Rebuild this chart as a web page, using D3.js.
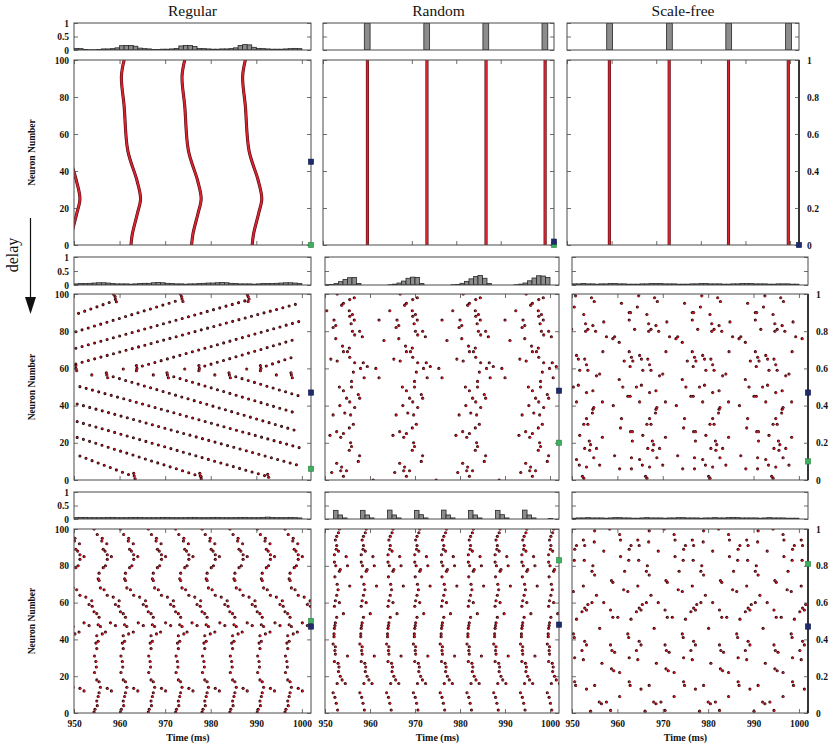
<!DOCTYPE html>
<html><head><meta charset="utf-8">
<script src="https://cdn.jsdelivr.net/npm/d3@7"></script>
<style>
html,body{margin:0;padding:0;background:#fff;}
</style></head><body>
<svg id="chart" width="834" height="748"></svg>
<script>
// ================= DATA =================
const networkTypes = ["Regular", "Random", "Scale-free"];
const timeTicks = [950, 960, 970, 980, 990, 1000];
const neuronTicks = [0, 20, 40, 60, 80, 100];
const rateTicks = [0, 0.5, 1];
const orderTicks = [0, 0.2, 0.4, 0.6, 0.8, 1];
const timeDomain = [950, 1002];

// Row 1 (no delay): spike waves
const r1RegularWaves = [
  [[949.2,0],[949.5,6],[950.6,17],[951.3,25],[950.5,35],[948.5,51]],
  [[962.5,0],[962.8,6],[963.9,17],[964.6,25],[963.8,35],[961.8,51],[961,75],[960.4,91],[961,100]],
  [[975.8,0],[976.1,6],[977.2,17],[977.9,25],[977.1,35],[975.1,51],[974.3,75],[973.7,91],[974.3,100]],
  [[989.1,0],[989.4,6],[990.5,17],[991.2,25],[990.4,35],[988.4,51],[987.6,75],[987,91],[987.6,100]]
];
const r1RandomBurstTimes = [960, 973.4, 986.7, 1000];
const r1ScaleFreeBurstTimes = [959.5, 972.9, 986.2, 999.6];

// Row 2 regular: wavefront segments [t0,n0,t1,n1] and extra spikes
const r2RegularWavefronts = [
  [951,89.6,958.6,96.2],[950.4,79.7,973.2,96.8],[950.4,70.8,988.2,96.8],[950.4,62.4,998.8,94.6],
  [965,61.3,999.8,85.5],[978.7,61.3,998.5,75.6],[992.2,61.3,998.8,66.7],
  [951.3,50.2,1000,17],[950.7,40.9,999,8.1],[950.7,31.4,992.6,1.8],[950.7,22.9,977.9,1.8],[951.3,12.9,963.2,1.8],
  [958.6,55.5,998.8,26.5],[971.9,55.5,999,35.8],[985.5,55.5,999.4,45.2]
];
const r2RegularSpikes = [
  [958.7,99.8],[959,98.6],[959.1,97.1],[959.3,95.8],[973.4,99.8],[973.6,98.6],[973.7,97.3],[973.9,96],
  [988,99.8],[988.2,98.6],[988.4,97.3],[988.2,96],
  [950.4,61.5],[950.4,60],[950.6,58.8],[963.7,61.5],[963.8,60],[963.7,58.8],[977.4,61.5],[977.5,60],[977.4,58.8],
  [990.9,61.5],[991,60],[990.9,58.8],
  [957.1,57.7],[957.2,56.5],[957.4,55],[970.4,57.7],[970.5,56.5],[970.7,55],[984,57.7],[984.1,56.5],[984.3,55],
  [997.6,57.7],[997.7,56.5],[997.9,55],
  [953.9,56.5],[960.8,59.7],[967.4,56.5],[974.3,59.7],[980.9,56.5],[987.9,59.7],[994.4,56.5],
  [963.1,3.6],[963.2,2.2],[963.4,0.7],[977.6,3.6],[977.7,2.2],[977.9,0.7],[992.5,3],[992.7,1.5]
];

// Row 2 random: one burst (first cycle) and cycle shifts
const r2RandomBurst = [
  [952.7,100],[954.1,95],[955.5,97],[956.5,98],[953.7,94],[950.4,91],[955.4,91],[956.1,89],[955.5,88],[952,86],
  [956.5,86],[951.8,82],[952.4,83],[955.8,84],[956.1,80],[957.7,80],[958.3,77],[956.6,78],[952.4,76],[953.9,72],
  [955.4,71],[954.1,69],[955,69],[951.3,65],[952.7,64],[955.5,66],[956.6,63],[958.5,63],[959.4,61],[957.9,60],
  [961.3,60],[958.7,55],[962,55],[956.3,58],[955.9,53],[953.2,50],[954.1,48],[955.9,50],[957.4,46],[957.7,44],
  [954.8,44],[955.5,42],[953.3,40],[956.6,39],[955.7,35],[951.8,35],[954.4,36],[956.3,30],[955.4,28],[954.1,25],
  [952.6,26],[951.1,24],[953.5,23],[955.7,20],[955.4,16],[955.9,18],[957.7,13],[957.4,10],[952.6,9],[953.7,7],
  [953.5,5],[954.8,5],[951.5,4],[954.1,2],[962,86],[963.1,75],[960.7,0]
];
const r2RandomShifts = [0, 14, 28, 42];

// Row 2 scale-free: one cycle and shifts
const r2ScaleFreeCycle = [
  [960.9,95],[964.7,99],[962.6,90],[962.9,90],[964.4,93],[962.6,86],[963.8,81],[968.2,98],[968.8,96],[966.5,89],
  [966.9,84],[967.4,81],[968.5,83],[969.1,80],[970.9,85],[966.9,80],[959.4,77],[960.4,74],[962.6,69],[961.5,64],
  [963.1,66],[962.8,61],[963.4,64],[964.9,67],[965.3,65],[966.7,65],[967.1,62],[967.4,59],[965.6,59],[969.3,56],
  [970,57],[970.7,69],[971.5,77],[972.9,76],[960.4,54],[961.2,50],[962.3,45],[962.8,45],[964.2,50],[965.3,51],
  [964.9,42],[967.1,47],[968.5,48],[968.7,39],[968.5,38],[968.4,36],[970.6,42],[960.9,33],[960.7,28],[962.9,26],
  [963.3,26],[963.3,21],[965.6,24],[967.1,33],[966.5,30],[967.4,30],[967.7,21],[968,19],[967.8,16],[966.7,17],
  [969.3,17],[970.6,23],[959.4,13],[960.5,6],[963.1,12],[963.1,6],[964.9,11],[965.5,8],[966.2,2],[966.5,1],
  [967.1,7],[968.7,12],[970,8],[959.1,40]
];
const r2ScaleFreeShifts = [-13.9, 0, 13.9, 27.8];

// Row 3 regular: one column of spikes and shifts
const r3RegularColumn = [
  [954.4,100],[955.1,97],[956.2,95],[956.1,93.5],[957.2,92],[956.4,89],[956.8,88],[957.3,86],[958.2,85],[957.3,83.5],
  [956.9,80],[956.4,79],[955.5,76],[955.3,73],[955.5,72],[955.8,68],[956.6,67],[957.3,64],[958.6,63],[959.9,61],
  [953.3,59],[954,58],[954.4,55],[955,54],[955.5,52],[955.3,48],[955.8,47],[956.2,43],[955,42],[955.3,39],
  [954.8,38],[955,35],[954.5,31],[954.8,28],[954.9,25],[954.5,22],[955,18],[955.5,17],[955.8,14],[957.3,13.4],
  [958.2,12],[955.5,11],[955.3,9],[955,6.5],[955.1,4],[954.6,2],[954.4,0.5],[952.2,49],[953.3,47.5],[951.1,44]
];
const r3RegularShifts = [-6, 0, 5.8, 11.9, 17.9, 23.7, 29.8, 35.8, 41.9, 47.9];

// Row 3 random: one column and shifts
const r3RandomColumn = [
  [953.2,100],[953,98],[952.6,96],[952.3,94],[952.6,91],[952.5,89],[953,88],[952.1,86],[954.7,85],[952.1,82],
  [952.4,80],[953.4,78],[953.2,77],[952.2,74],[955.5,69],[952.7,70],[952.9,67],[952.6,64],[952.3,61],[953.2,60],
  [952.1,58],[954.1,54],[952.6,52],[952.3,49],[952.2,47.5],[952.1,46],[952,43],[952,41.5],[951.8,37.5],[952.3,36],
  [952.2,34],[952.3,32],[952.1,28],[952.9,27],[953.1,25],[953,22.5],[953.4,20],[953.8,18],[952.7,16],[951.8,11],
  [952.2,8.5],[952.5,5.3],[952.8,1.6],[955,80],[955,31],[954.5,16]
];
const r3RandomShifts = [0, 5.95, 11.9, 17.85, 23.8, 29.75, 35.7, 41.65, 47.6];

// Row 3 scale-free: one cycle and shifts
const r3ScaleFreeCycle = [
  [963,91],[962.6,89],[964.5,94],[964.8,91],[967,99],[966.9,93],[969,88],[970.3,100],[972.5,97],[972.7,94],
  [962.5,83],[964.7,83],[966.6,80],[966.4,77],[967,75],[970.7,72],[971,71],[972.7,85],[973.6,77],[962.3,66],
  [964.5,69],[964.8,57],[965.2,56],[965.5,59],[966.4,60],[967.4,64],[969,60],[973.4,67],[963,51],[964.2,55],
  [968.1,46],[970.5,56],[971,52],[972.1,52],[962.3,43],[962.5,41],[964.8,39],[965.2,37],[970.5,37],[970.8,34],
  [971.4,33],[962.6,30],[964.2,34],[964.5,29],[968.6,27],[970.7,24],[971.2,23],[972.5,22],[962.6,17],[962.8,15],
  [965.2,13],[968.5,5],[969.6,6],[966.1,1],[970.5,1.4],[972.5,9],[967,15],[968,6]
];
const r3ScaleFreeShifts = [-12, 0, 12, 24, 36];

// Firing-rate histograms (1 ms bins from 950 unless given as [start, value])
const r1RegularRate = [0.06,0.05,0.02,0.01,0.01,0.02,0.04,0.04,0.05,0.08,0.16,0.17,0.17,0.14,0.07,0.05,0.04,0.02,0.02,0.03,
  0.03,0.04,0.06,0.15,0.17,0.17,0.13,0.06,0.05,0.04,0.03,0.03,0.04,0.04,0.05,0.08,0.17,0.2,0.19,0.1,
  0.06,0.05,0.04,0.03,0.03,0.03,0.04,0.05,0.06,0.05];
const r1RandomRate = [[959.3,1],[972.7,1],[986.0,1],[999.3,1]];
const r1ScaleFreeRate = [[958.9,1],[972.3,1],[985.6,1],[999.0,1]];
const r2RegularRate = [0.04,0.05,0.05,0.06,0.07,0.08,0.08,0.07,0.05,0.04,0.04,0.04,0.03,0.04,0.05,0.06,0.06,0.08,0.09,0.08,
  0.06,0.05,0.04,0.04,0.03,0.04,0.04,0.05,0.06,0.07,0.07,0.08,0.09,0.08,0.06,0.05,0.04,0.04,0.04,0.03,
  0.04,0.05,0.05,0.05,0.06,0.07,0.08,0.08,0.07,0.05];
const r2RandomRate = [0.01,0.02,0.05,0.12,0.2,0.26,0.27,0.05,0,0,0,0,0,0,0.01,0.03,0.07,0.14,0.24,0.28,
  0.27,0.05,0,0,0,0,0,0,0.01,0.02,0.06,0.13,0.22,0.3,0.34,0.24,0.05,0,0,0,
  0,0,0.01,0.03,0.07,0.15,0.25,0.33,0.32,0.27];
const r2ScaleFreeRate = [0.04,0.04,0.05,0.04,0.04,0.03,0.04,0.04,0.05,0.05,0.04,0.04,0.03,0.03,0.03,0.04,0.04,0.05,0.05,0.05,
  0.04,0.04,0.04,0.03,0.03,0.03,0.04,0.04,0.05,0.05,0.04,0.04,0.04,0.03,0.03,0.04,0.04,0.05,0.05,0.05,
  0.04,0.04,0.04,0.03,0.03,0.04,0.04,0.04,0.03,0.03];
const r3RegularRate = [0.05,0.06,0.06,0.05,0.05,0.05,0.05,0.06,0.06,0.05,0.05,0.05,0.06,0.06,0.06,0.05,0.05,0.05,0.05,0.06,
  0.06,0.05,0.05,0.05,0.05,0.06,0.06,0.05,0.05,0.05,0.06,0.06,0.05,0.05,0.05,0.05,0.06,0.06,0.05,0.05,
  0.05,0.06,0.07,0.06,0.05,0.05,0.05,0.06,0.05,0.04];
const r3RandomRate = [[951.9,0.32],[952.9,0.15],[953.9,0.04],[957.9,0.32],[958.9,0.15],[959.9,0.04],[963.9,0.33],[964.9,0.15],[965.9,0.04],
  [969.9,0.32],[970.9,0.16],[971.9,0.04],[975.9,0.33],[976.9,0.15],[977.9,0.04],[981.9,0.32],[982.9,0.15],[983.9,0.04],
  [987.9,0.32],[988.9,0.16],[989.9,0.04],[993.9,0.33],[994.9,0.15],[995.9,0.04],[999.6,0.02]];
const r3ScaleFreeRate = [0.03,0.04,0.04,0.05,0.04,0.04,0.04,0.03,0.04,0.05,0.05,0.04,0.04,0.03,0.03,0.04,0.05,0.04,0.04,0.04,
  0.03,0.04,0.04,0.05,0.05,0.04,0.04,0.04,0.03,0.04,0.04,0.05,0.04,0.04,0.05,0.06,0.05,0.04,0.04,0.04,
  0.04,0.03,0.04,0.05,0.04,0.04,0.04,0.03,0.03,0.03];

// Order-parameter markers (right axis, 0..1), rows x columns
const blueMarkers = [[0.45, 0.018, 0.0], [0.47, 0.48, 0.47], [0.47, 0.48, 0.47]];
const greenMarkers = [[0.0, 0.0, null], [0.06, 0.20, 0.10], [0.50, 0.83, 0.81]];

// ================= DRAWING =================
const FONT = '"Liberation Serif","Times New Roman",serif';
const AX = "#4a4a4a";
const DARK = "#2e070b", RED = "#d11f2c";
const svg = d3.select("#chart");
const defs = svg.append("defs");

const layout = [
  {hist: [23, 50], raster: [60, 245], cols: [[74, 311], [323, 554], [567, 799]]},
  {hist: [257, 285], raster: [294, 480], cols: [[74, 311], [325, 559], [572, 808]]},
  {hist: [492, 519], raster: [529, 713], cols: [[74, 311], [325, 559], [572, 808]]}
];

let cid = 0;
function clipped(x0, y0, x1, y1) {
  const id = "clip" + (cid++);
  defs.append("clipPath").attr("id", id).append("rect")
    .attr("x", x0).attr("y", y0).attr("width", x1 - x0).attr("height", y1 - y0);
  return svg.append("g").attr("clip-path", `url(#${id})`);
}
function styleAxis(sel) {
  sel.attr("font-family", FONT).attr("font-size", 9.5).attr("font-weight", "bold");
  sel.selectAll(".tick line").attr("stroke", AX).attr("stroke-width", 0.8);
  sel.selectAll("text").attr("fill", "#111");
  sel.select(".domain").remove();
}
function addAxis(axis, tx, ty) {
  svg.append("g").attr("transform", `translate(${tx},${ty})`).call(axis).call(styleAxis);
}
function border(x0, y0, x1, y1, w, c) {
  svg.append("rect").attr("x", x0).attr("y", y0).attr("width", x1 - x0).attr("height", y1 - y0)
    .attr("fill", "none").attr("stroke", c || AX).attr("stroke-width", w || 1);
}

const expand = (pts, shifts) => shifts.flatMap(s => pts.map(([t, n]) => [t + s, n]));
const uniformBins = (vals, start, w) => vals.map((v, i) => ({t0: start + i * w, t1: start + (i + 1) * w, v}));
const pairBins = (pairs, w) => pairs.map(([t, v]) => ({t0: t, t1: t + w, v}));

const histData = [
  [uniformBins(r1RegularRate, 950, 1), pairBins(r1RandomRate, 1.3), pairBins(r1ScaleFreeRate, 1.3)],
  [uniformBins(r2RegularRate, 950, 1), uniformBins(r2RandomRate, 950, 1), uniformBins(r2ScaleFreeRate, 950, 1)],
  [uniformBins(r3RegularRate, 950, 1), pairBins(r3RandomRate, 1), uniformBins(r3ScaleFreeRate, 950, 1)]
];

function drawSpikes(g, x, y, pts) {
  const inRange = pts.filter(d => d[0] >= timeDomain[0] - 1 && d[0] <= timeDomain[1] + 1);
  g.append("g").selectAll("circle").data(inRange).join("circle")
    .attr("cx", d => x(d[0])).attr("cy", d => y(d[1])).attr("r", 1.55).attr("fill", DARK);
  g.append("g").selectAll("circle").data(inRange).join("circle")
    .attr("cx", d => x(d[0]) + 0.4).attr("cy", d => y(d[1]) + 0.3).attr("r", 0.95).attr("fill", RED);
}
function drawThick(g, paths) {
  g.append("g").selectAll("path").data(paths).join("path")
    .attr("d", d => d).attr("fill", "none").attr("stroke", "#4a0a10").attr("stroke-width", 3.1).attr("stroke-linecap", "round");
  g.append("g").selectAll("path").data(paths).join("path")
    .attr("d", d => d).attr("fill", "none").attr("stroke", "#d6232f").attr("stroke-width", 2).attr("stroke-linecap", "round");
}

function drawRaster(r, c, g, x, y) {
  if (r === 0 && c === 0) {
    const line = d3.line().x(d => x(d[0])).y(d => y(d[1])).curve(d3.curveCatmullRom);
    drawThick(g, r1RegularWaves.map(w => line(w)));
  } else if (r === 0) {
    const times = c === 1 ? r1RandomBurstTimes : r1ScaleFreeBurstTimes;
    drawThick(g, times.map(t => `M${x(t)},${y(0)}L${x(t)},${y(100)}`));
  } else if (r === 1 && c === 0) {
    const segs = r2RegularWavefronts.map(s => `M${x(s[0])},${y(s[1])}L${x(s[2])},${y(s[3])}`);
    g.append("g").selectAll("path").data(segs).join("path").attr("d", d => d).attr("fill", "none")
      .attr("stroke", DARK).attr("stroke-width", 3.1).attr("stroke-linecap", "round").attr("stroke-dasharray", "0 6.5");
    g.append("g").selectAll("path").data(segs).join("path").attr("d", d => d).attr("fill", "none")
      .attr("stroke", RED).attr("stroke-width", 1.4).attr("stroke-linecap", "round").attr("stroke-dasharray", "0 6.5");
    drawSpikes(g, x, y, r2RegularSpikes);
  } else if (r === 1 && c === 1) {
    drawSpikes(g, x, y, expand(r2RandomBurst, r2RandomShifts));
  } else if (r === 1 && c === 2) {
    drawSpikes(g, x, y, expand(r2ScaleFreeCycle, r2ScaleFreeShifts));
  } else if (r === 2 && c === 0) {
    drawSpikes(g, x, y, expand(r3RegularColumn, r3RegularShifts));
  } else if (r === 2 && c === 1) {
    drawSpikes(g, x, y, expand(r3RandomColumn, r3RandomShifts));
  } else {
    drawSpikes(g, x, y, expand(r3ScaleFreeCycle, r3ScaleFreeShifts));
  }
}

layout.forEach((row, r) => {
  row.cols.forEach(([x0, x1], c) => {
    const x = d3.scaleLinear().domain(timeDomain).range([x0, x1]);
    // ---- histogram panel ----
    const [hy0, hy1] = row.hist;
    const yh = d3.scaleLinear().domain([0, 1]).range([hy1, hy0]);
    const hg = clipped(x0, hy0, x1, hy1);
    hg.selectAll("rect").data(histData[r][c].filter(b => b.v > 0)).join("rect")
      .attr("x", b => x(b.t0)).attr("width", b => x(b.t1) - x(b.t0))
      .attr("y", b => yh(b.v)).attr("height", b => yh(0) - yh(b.v))
      .attr("fill", "#8c8c8c").attr("stroke", "#262626").attr("stroke-width", 0.8);
    border(x0, hy0, x1, hy1);
    addAxis(d3.axisLeft(yh).tickValues(rateTicks).tickSize(-4).tickPadding(5)
      .tickFormat(c === 0 ? (v => String(v)) : ""), x0, 0);
    addAxis(d3.axisRight(yh).tickValues(rateTicks).tickSize(-4).tickFormat(""), x1, 0);

    // ---- raster panel ----
    const [ry0, ry1] = row.raster;
    const y = d3.scaleLinear().domain([0, 100]).range([ry1, ry0]);
    const yo = d3.scaleLinear().domain([0, 1]).range([ry1, ry0]);
    const g = clipped(x0, ry0, x1, ry1);
    drawRaster(r, c, g, x, y);
    border(x0, ry0, x1, ry1);
    if (c === 2) {
      svg.append("line").attr("x1", x1).attr("x2", x1).attr("y1", ry0).attr("y2", ry1)
        .attr("stroke", "#1a1a1a").attr("stroke-width", 1.6);
    }
    addAxis(d3.axisBottom(x).tickValues(timeTicks).tickSize(-4).tickPadding(7)
      .tickFormat(r === 2 ? d3.format("d") : ""), 0, ry1);
    addAxis(d3.axisTop(x).tickValues(timeTicks).tickSize(-4).tickFormat(""), 0, ry0);
    addAxis(d3.axisLeft(y).tickValues(neuronTicks).tickSize(-4).tickPadding(5)
      .tickFormat(c === 0 ? d3.format("d") : ""), x0, 0);
    addAxis(d3.axisRight(yo).tickValues(orderTicks).tickSize(-4).tickPadding(8)
      .tickFormat(c === 2 ? (v => String(v)) : ""), x1, 0);

    // markers
    const gm = greenMarkers[r][c], bm = blueMarkers[r][c];
    if (gm !== null) svg.append("rect").attr("x", x1 - 2.7).attr("y", yo(gm) - 2.7).attr("width", 5.4).attr("height", 5.4)
      .attr("fill", "#3fae5f").attr("stroke", "#2b7d44").attr("stroke-width", 0.5);
    if (bm !== null) svg.append("rect").attr("x", x1 - 2.7).attr("y", yo(bm) - 2.7).attr("width", 5.4).attr("height", 5.4)
      .attr("fill", "#1e2c6d").attr("stroke", "#111a4a").attr("stroke-width", 0.5);

    if (c === 0) {
      svg.append("text").attr("transform", `translate(35,${(ry0 + ry1) / 2}) rotate(-90)`)
        .attr("text-anchor", "middle").attr("font-family", FONT).attr("font-size", 9.5)
        .attr("font-weight", "bold").attr("fill", "#111").text("Neuron Number");
    }
    if (r === 2) {
      svg.append("text").attr("x", x(975)).attr("y", 741).attr("text-anchor", "middle")
        .attr("font-family", FONT).attr("font-size", 10).attr("font-weight", "bold").attr("fill", "#111")
        .text("Time (ms)");
    }
    if (r === 0) {
      svg.append("text").attr("x", (x0 + x1) / 2).attr("y", 16).attr("text-anchor", "middle")
        .attr("font-family", FONT).attr("font-size", 15.5).attr("fill", "#111").text(networkTypes[c]);
    }
  });
});

// delay arrow and label
svg.append("line").attr("x1", 30.5).attr("x2", 30.5).attr("y1", 218).attr("y2", 300)
  .attr("stroke", "#111").attr("stroke-width", 1.2);
svg.append("path").attr("d", "M25,297L36,297L30.5,314Z").attr("fill", "#111");
svg.append("text").attr("transform", "translate(18,255) rotate(-90)").attr("text-anchor", "middle")
  .attr("font-family", FONT).attr("font-size", 16).attr("fill", "#111").text("delay");
</script>
</body></html>
